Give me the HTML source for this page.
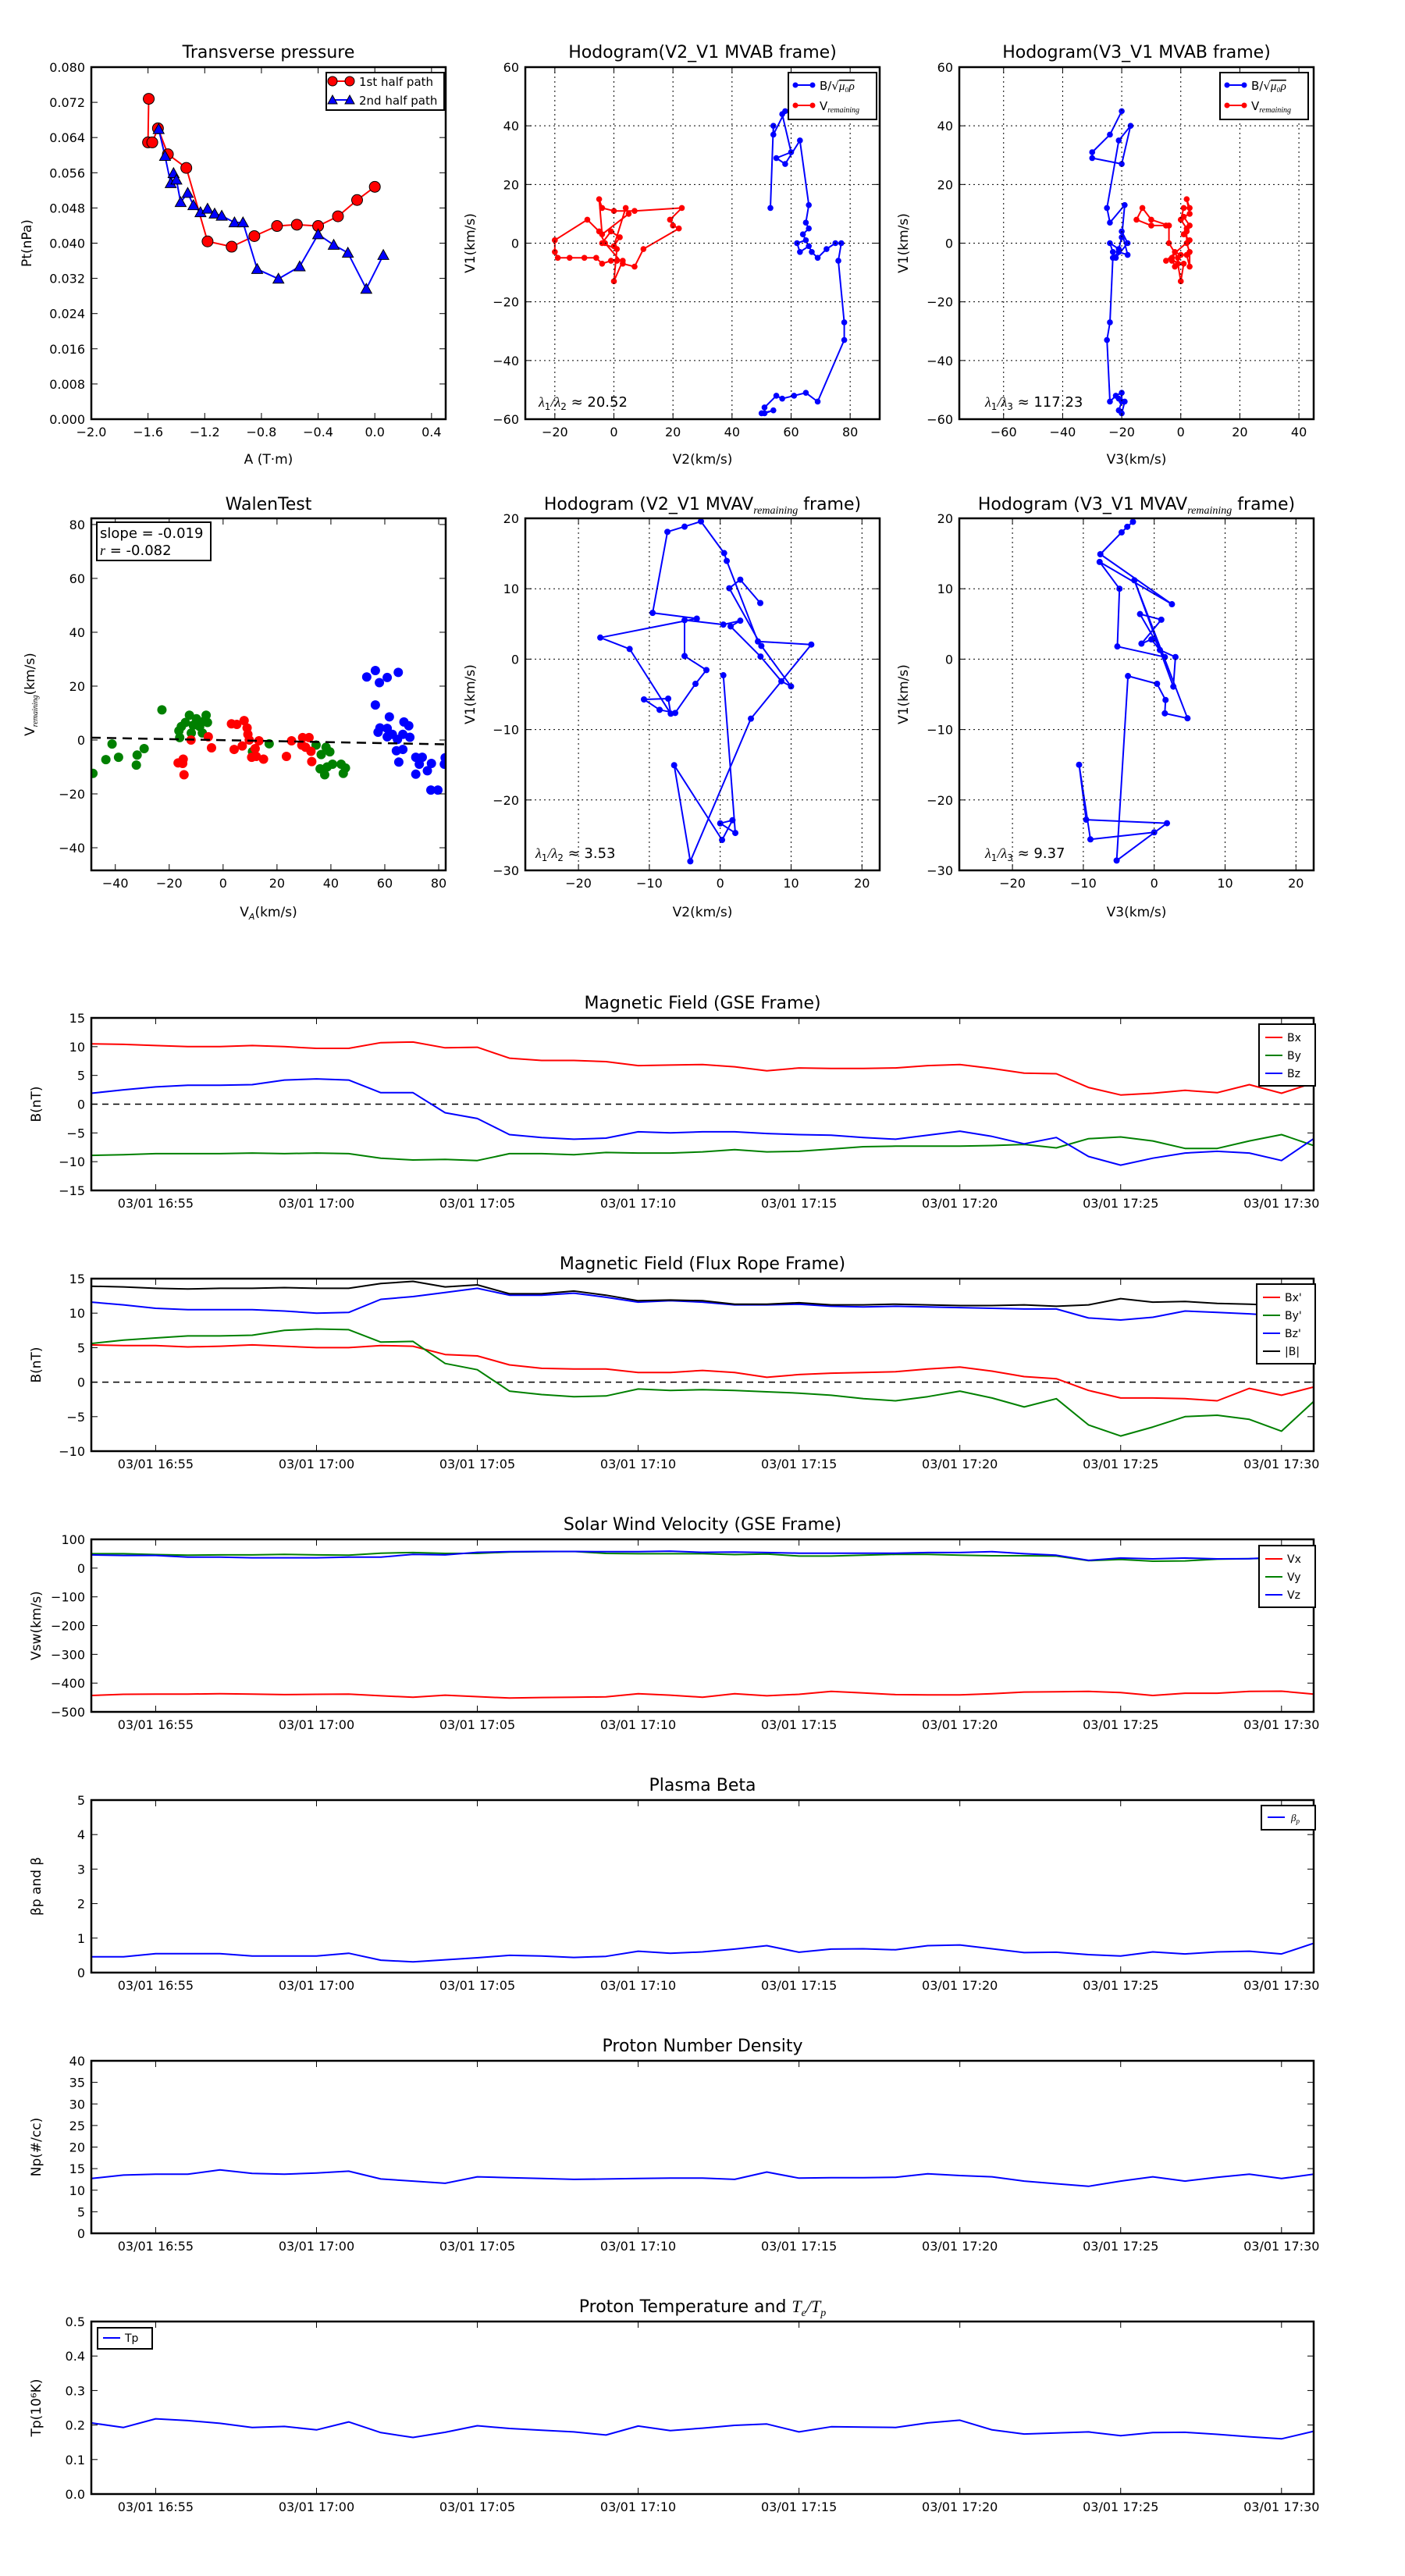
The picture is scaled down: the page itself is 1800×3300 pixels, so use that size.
<!DOCTYPE html>
<html><head><meta charset="utf-8"><style>
html,body{margin:0;padding:0;background:#fff;}
svg{display:block;font-family:"DejaVu Sans","Liberation Sans",sans-serif;}
</style></head><body>
<svg id="fig" width="1800" height="3300" viewBox="0 0 1800 3300" xmlns="http://www.w3.org/2000/svg">
<rect x="0" y="0" width="1800" height="3300" fill="#fff"/>
</svg>
<script>
// ---------- data: transverse pressure ----------
const ptA1=[-1.595,-1.60,-1.57,-1.53,-1.46,-1.33,-1.18,-1.01,-0.85,-0.69,-0.55,-0.40,-0.26,-0.125,0.00];
const ptP1=[0.0728,0.0629,0.0629,0.0661,0.0602,0.0571,0.0404,0.0392,0.0416,0.0439,0.0442,0.0439,0.0461,0.0498,0.0528];
const ptA2=[-1.525,-1.48,-1.44,-1.42,-1.40,-1.37,-1.32,-1.28,-1.23,-1.18,-1.13,-1.08,-0.99,-0.93,-0.83,-0.68,-0.53,-0.40,-0.29,-0.19,-0.06,0.06];
const ptP2=[0.0659,0.0598,0.0536,0.0559,0.0544,0.0493,0.0514,0.0486,0.0470,0.0478,0.0467,0.0462,0.0447,0.0447,0.0341,0.0319,0.0347,0.0420,0.0396,0.0378,0.0296,0.0373];
// ---------- hodogram MVAB V2-V1 ----------
const h2bX=[53,54,54,58,57,60,55,58,63,66,65,66,64,65,62,63,66,67,69,72,75,77,76,78,78,69,65,61,57,55,51,51,54,50];
const h2bY=[12,40,37,45,44,31,29,27,35,13,7,5,3,1,0,-3,-1,-3,-5,-2,0,0,-6,-27,-33,-54,-51,-52,-53,-52,-56,-58,-57,-58];
const h2rX=[-20,-20,-19,-15,-10,-6,-4,-1,1,3,0,1,-4,-1,2,0,4,5,-4,-5,-4,0,7,23,19,20,22,10,7,3,-3,-5,-9,-20];
const h2rY=[1,-3,-5,-5,-5,-5,-7,-6,-6,-6,-13,-2,0,4,2,-1,12,10,3,15,12,11,11,12,8,6,5,-2,-8,-7,0,4,8,1];
// ---------- hodogram MVAB V3-V1 ----------
const h3bX=[-20,-24,-30,-30,-20,-17,-21,-25,-24,-19,-20,-21,-24,-23,-22,-18,-20,-18,-21,-23,-24,-25,-24,-22,-20,-20,-21,-20,-19,-21];
const h3bY=[45,37,31,29,27,40,35,12,7,13,2,-2,0,-3,-5,0,4,-4,-3,-5,-27,-33,-54,-52,-51,-54,-57,-58,-54,-53];
const h3rX=[-5,-10,-15,-13,-10,-4,-4,-1,-1,0,1,-3,-2,0,2,3,3,2,2,3,1,3,2,3,1,0,2,1,3,-5,-3,-2];
const h3rY=[6,6,8,12,8,6,0,-5,-7,-13,-7,-6,-3,-4,-4,-8,-3,0,4,6,9,10,15,12,12,8,5,3,1,-6,-5,-8];
// ---------- Walen test ----------
const wgX=[-48.3,-43.5,-41.2,-38.8,-32.2,-31.9,-29.3,-22.7,-16.4,-16.1,-15.5,-14,-12.5,-11.8,-11.1,-9.9,-8.7,-7.7,-7.1,-6.3,-5.8,10.9,17.1,34.5,36.4,38.2,39.6,36.0,37.7,38.6,40.6,43.8,45.4,44.6];
const wgY=[-12.4,-7.3,-1.5,-6.4,-9.3,-5.6,-3.2,11.2,3.4,0.9,5.0,6.5,9.2,2.6,5.5,7.9,5.0,2.6,7.0,9.2,6.5,-4.3,-1.4,-1.9,-5.4,-2.7,-4.4,-10.7,-12.9,-10.0,-9.0,-9.0,-10.4,-12.4];
const wrX=[-16.7,-14.8,-15,-14.5,-11.9,-5.5,-4.3,3.1,5.1,7.8,8.9,9.2,9.7,13.3,7.1,4.1,11.9,10.6,12.3,15,23.5,25.4,29.5,31.9,29.2,30.6,32.6,32.9];
const wrY=[-8.5,-7.1,-8.7,-12.9,0,1.2,-2.9,6.0,5.8,7.2,4.5,2.1,0,-0.3,-2.2,-3.5,-3.2,-6.4,-6.1,-7.1,-6.1,-0.3,0.9,0.9,-1.9,-2.7,-4.2,-8.0];
const wbX=[53.3,56.5,58,60.9,65,56.5,61.7,67.1,68.9,57.5,58.2,60.9,60.9,62.8,64.7,66.7,69.3,64.3,66.7,65.2,71.5,73.9,72.8,71.5,75.8,77.3,77.1,79.7,82.1,82.4];
const wbY=[23.4,25.8,21.3,23.2,25.1,13.0,8.6,6.7,5.3,2.9,4.5,4.3,1.2,2.1,0.2,2.1,1.0,-4.0,-3.5,-8.2,-6.4,-6.4,-9.0,-12.7,-11.4,-8.7,-18.6,-18.6,-9.0,-6.6];
const walenSlope=-0.019;
const walenIntercept=-0.05;
// ---------- hodogram MVAV V2-V1 ----------
const m2X=[0.44,2.13,0,1.73,0.26,-6.50,-4.22,4.33,12.85,5.32,0.92,0.55,-2.72,-5.03,-7.45,-9.54,-3.30,-16.92,-12.78,-6.98,-7.34,-10.76,-8.55,-6.35,-3.49,-1.95,-5.03,-5.03,0.44,2.83,1.47,5.69,8.63,9.99,5.80,1.28,2.83,5.65];
const m2Y=[-2.29,-24.69,-23.32,-22.88,-25.68,-15.06,-28.71,-8.45,2.07,2.51,13.95,15.06,19.56,18.82,18.08,6.57,5.76,3.06,1.44,-7.75,-5.61,-5.72,-7.20,-7.64,-3.51,-1.55,0.44,5.54,4.91,5.46,4.65,0.37,-3.14,-3.87,1.88,10.07,11.29,7.97];
// ---------- hodogram MVAV V3-V1 ----------
const m3X=[-3,-3.8,-4.6,-7.6,2.5,-7.7,-4.9,-5.2,1.5,-2,1,-1.8,-0.4,0.8,3,2.7,-2.8,4.7,1.5,1.6,0.4,-3.7,-5.3,1.8,-9.6,-10.6,-9,0];
const m3Y=[19.5,18.8,18,14.9,7.8,13.8,10,1.8,0.3,6.4,5.6,2.2,2.8,1.3,0.3,-3.9,11.2,-8.4,-7.7,-5.8,-3.5,-2.4,-28.6,-23.3,-22.8,-15,-25.6,-24.6];
// ---------- time series (one sample per minute from 16:53) ----------
const timeTickLabels=["03/01 16:55","03/01 17:00","03/01 17:05","03/01 17:10","03/01 17:15","03/01 17:20","03/01 17:25","03/01 17:30"];
const timeTickMinutes=[2,7,12,17,22,27,32,37];
const gseBx=[10.5,10.4,10.2,10.0,10.0,10.2,10.0,9.7,9.7,10.7,10.8,9.8,9.9,8.0,7.6,7.6,7.4,6.7,6.8,6.9,6.5,5.8,6.3,6.2,6.2,6.3,6.7,6.9,6.2,5.4,5.3,2.9,1.6,1.9,2.4,2.0,3.4,1.9,3.7];
const gseBy=[-8.9,-8.8,-8.6,-8.6,-8.6,-8.5,-8.6,-8.5,-8.6,-9.4,-9.7,-9.6,-9.8,-8.6,-8.6,-8.8,-8.4,-8.5,-8.5,-8.3,-7.9,-8.3,-8.2,-7.8,-7.4,-7.3,-7.3,-7.3,-7.2,-7.0,-7.6,-6.0,-5.7,-6.4,-7.7,-7.7,-6.4,-5.3,-7.2];
const gseBz=[1.9,2.5,3.0,3.3,3.3,3.4,4.2,4.4,4.2,2.0,2.0,-1.5,-2.5,-5.3,-5.8,-6.1,-5.9,-4.8,-5.0,-4.8,-4.8,-5.1,-5.3,-5.4,-5.8,-6.1,-5.4,-4.7,-5.6,-6.9,-5.8,-9.1,-10.6,-9.4,-8.5,-8.2,-8.5,-9.8,-6.0];
const frBx=[5.4,5.3,5.3,5.1,5.2,5.4,5.2,5.0,5.0,5.3,5.2,4.0,3.8,2.5,2.0,1.9,1.9,1.4,1.4,1.7,1.4,0.7,1.1,1.3,1.4,1.5,1.9,2.2,1.6,0.8,0.5,-1.2,-2.3,-2.3,-2.4,-2.7,-0.9,-1.9,-0.7];
const frBy=[5.6,6.1,6.4,6.7,6.7,6.8,7.5,7.7,7.6,5.8,5.9,2.7,1.8,-1.3,-1.8,-2.1,-2.0,-1.0,-1.2,-1.1,-1.2,-1.4,-1.6,-1.9,-2.4,-2.7,-2.1,-1.3,-2.3,-3.6,-2.4,-6.2,-7.8,-6.5,-5.0,-4.8,-5.4,-7.1,-2.8];
const frBz=[11.6,11.2,10.7,10.5,10.5,10.5,10.3,10.0,10.1,12.0,12.4,13.0,13.6,12.6,12.6,12.9,12.3,11.6,11.8,11.6,11.2,11.2,11.3,11.0,10.9,11.0,10.9,10.8,10.7,10.6,10.6,9.3,9.0,9.4,10.3,10.1,9.9,9.6,10.0];
const frBt=[13.9,13.8,13.6,13.5,13.6,13.6,13.7,13.6,13.6,14.3,14.6,13.8,14.1,12.8,12.8,13.2,12.6,11.8,11.9,11.8,11.3,11.3,11.5,11.2,11.2,11.3,11.2,11.1,11.1,11.2,11.0,11.2,12.1,11.6,11.7,11.4,11.3,11.1,11.0];
const vx=[-443,-439,-438,-438,-437,-438,-440,-439,-438,-444,-449,-442,-447,-452,-450,-449,-448,-437,-442,-449,-437,-444,-439,-429,-434,-440,-441,-441,-437,-431,-430,-429,-433,-443,-435,-435,-429,-428,-438];
const vy=[50,50,47,45,46,46,48,46,45,52,54,51,51,56,57,58,51,50,50,50,47,49,42,42,45,48,48,45,43,43,42,26,30,24,25,31,33,35,38];
const vz=[46,44,44,38,38,36,36,36,38,38,48,46,55,57,58,58,57,57,59,55,56,54,52,52,52,52,54,54,57,50,45,27,35,32,35,32,33,38,42];
const betaP=[0.46,0.46,0.55,0.55,0.55,0.48,0.48,0.48,0.56,0.36,0.31,0.37,0.43,0.50,0.48,0.44,0.47,0.62,0.56,0.60,0.68,0.78,0.59,0.68,0.69,0.66,0.78,0.80,0.69,0.58,0.59,0.52,0.48,0.60,0.54,0.60,0.62,0.54,0.85];
const np=[12.7,13.5,13.7,13.7,14.7,13.9,13.7,14.0,14.4,12.6,12.1,11.6,13.1,12.9,12.7,12.5,12.6,12.7,12.8,12.8,12.5,14.2,12.8,12.9,12.9,13.0,13.8,13.4,13.1,12.1,11.5,10.9,12.1,13.1,12.1,13.0,13.7,12.7,13.7];
const tp=[0.206,0.193,0.218,0.213,0.205,0.193,0.196,0.186,0.209,0.178,0.164,0.179,0.198,0.190,0.185,0.180,0.171,0.197,0.184,0.191,0.199,0.203,0.180,0.195,0.194,0.193,0.206,0.214,0.186,0.174,0.177,0.180,0.169,0.178,0.179,0.173,0.166,0.160,0.182];

// ---------- drawing helpers ----------
const NS='http://www.w3.org/2000/svg';
const svg=document.getElementById('fig');
let clipId=0;
function mk(tag,attrs,parent){const e=document.createElementNS(NS,tag);for(const k in attrs)e.setAttribute(k,attrs[k]);(parent||svg).appendChild(e);return e;}
function txt(x,y,s,size,anchor,parent,extra){const t=mk('text',Object.assign({x:x,y:y,'font-size':size,'text-anchor':anchor||'middle',fill:'#000'},extra||{}),parent);t.textContent=s;return t;}
function axes(name,px0,py0,w,h,xmin,xmax,ymin,ymax){
  const g=mk('g',{});
  
  
  const cid='c'+(clipId++);
  const cp=mk('clipPath',{id:cid},g);mk('rect',{x:px0,y:py0,width:w,height:h},cp);
  const plot=mk('g',{'clip-path':'url(#'+cid+')'},g);
  
  
  return {g:g,plot:plot,x0:px0,y0:py0,w:w,h:h,
    sx:v=>px0+(v-xmin)/(xmax-xmin)*w, sy:v=>py0+h-(v-ymin)/(ymax-ymin)*h};
}
function frame(ax,xt,xl,yt,yl,grid,fs){
  fs=fs||16;
  const tl=8;
  xt.forEach((v,i)=>{const x=ax.sx(v);
    if(grid){const gl=mk('line',{x1:x,y1:ax.y0,x2:x,y2:ax.y0+ax.h,stroke:'#000','stroke-width':1,'stroke-dasharray':'2,4'},ax.g);}
    mk('line',{x1:x,y1:ax.y0+ax.h,x2:x,y2:ax.y0+ax.h-tl,stroke:'#000','stroke-width':1},ax.g);
    mk('line',{x1:x,y1:ax.y0,x2:x,y2:ax.y0+tl,stroke:'#000','stroke-width':1},ax.g);
    const t=txt(x,ax.y0+ax.h+22,xl[i],fs,'middle',ax.g);
    
    
  });
  yt.forEach((v,i)=>{const y=ax.sy(v);
    if(grid){const gl=mk('line',{x1:ax.x0,y1:y,x2:ax.x0+ax.w,y2:y,stroke:'#000','stroke-width':1,'stroke-dasharray':'2,4'},ax.g);}
    mk('line',{x1:ax.x0,y1:y,x2:ax.x0+tl,y2:y,stroke:'#000','stroke-width':1},ax.g);
    mk('line',{x1:ax.x0+ax.w,y1:y,x2:ax.x0+ax.w-tl,y2:y,stroke:'#000','stroke-width':1},ax.g);
    const t=txt(ax.x0-8,y+6,yl[i],fs,'end',ax.g);
    
    
  });
}
function border(ax){const r=mk('rect',{x:ax.x0,y:ax.y0,width:ax.w,height:ax.h,fill:'none',stroke:'#000','stroke-width':2.5},ax.g);}
function title(ax,s,y){const t=txt(ax.x0+ax.w/2,y,s,22,'middle',ax.g);return t;}
function xlabel(ax,s,y){const t=txt(ax.x0+ax.w/2,y,s,17,'middle',ax.g);return t;}
function ylabel(ax,s,x){const cy=ax.y0+ax.h/2;const t=txt(x,cy,s,17,'middle',ax.g,{transform:'rotate(-90 '+x+' '+cy+')'});return t;}
function line(ax,xs,ys,color,name,w){const pts=xs.map((v,i)=>ax.sx(v).toFixed(1)+','+ax.sy(ys[i]).toFixed(1)).join(' ');const p=mk('polyline',{points:pts,fill:'none',stroke:color,'stroke-width':w||2,'stroke-linejoin':'round'},ax.plot);return p;}
function dots(ax,xs,ys,color,r,name){xs.forEach((v,i)=>{const c=mk('circle',{cx:ax.sx(v),cy:ax.sy(ys[i]),r:r,fill:color},ax.plot);});}
function tris(ax,xs,ys,color,r,name){xs.forEach((v,i)=>{const x=ax.sx(v),y=ax.sy(ys[i]);const p=mk('polygon',{points:(x)+','+(y-r)+' '+(x-r)+','+(y+r*0.8)+' '+(x+r)+','+(y+r*0.8),fill:color,stroke:'#000','stroke-width':1},ax.plot);});}
function range(a,b,s){const r=[];for(let v=a;v<=b+1e-9;v+=s)r.push(Math.round(v*1000)/1000);return r;}
function lab(arr,f){return arr.map(v=>f?f(v):String(v).replace('-','\u2212'));}

// ================= Row 1 =================
(function(){
  const ax=axes('transverse-pressure-chart',117,86,454,451,-2.0,0.5,0,0.08);
  const xt=range(-2.0,0.4,0.4), yt=range(0,0.08,0.008);
  frame(ax,xt,lab(xt,v=>v.toFixed(1).replace('-','\u2212')),yt,lab(yt,v=>v.toFixed(3)),false);
  line(ax,ptA1,ptP1,'#f00','first-half-path-line',2);
  line(ax,ptA2,ptP2,'#00f','second-half-path-line',2);
  dots(ax,ptA1,ptP1,'#f00',7,'first-half-marker');
  ax.plot.querySelectorAll('circle').forEach(c=>c.setAttribute('stroke','#000'));
  tris(ax,ptA2,ptP2,'#00f',7,'second-half-marker');
  border(ax);
  title(ax,'Transverse pressure',74);
  xlabel(ax,'A (T\u00b7m)',594);
  ylabel(ax,'Pt(nPa)',40);
  const lg=mk('g',{},ax.g);
  
  
  mk('rect',{x:418,y:93,width:151,height:48,fill:'#fff',stroke:'#000','stroke-width':2},lg);
  mk('line',{x1:424,y1:104,x2:450,y2:104,stroke:'#f00','stroke-width':2},lg);
  mk('circle',{cx:426,cy:104,r:6,fill:'#f00',stroke:'#000'},lg);mk('circle',{cx:448,cy:104,r:6,fill:'#f00',stroke:'#000'},lg);
  mk('line',{x1:424,y1:128,x2:450,y2:128,stroke:'#00f','stroke-width':2},lg);
  mk('polygon',{points:'426,122 420,133 432,133',fill:'#00f',stroke:'#000'},lg);mk('polygon',{points:'448,122 442,133 454,133',fill:'#00f',stroke:'#000'},lg);
  const l1=txt(460,110,'1st half path',15,'start',lg);
  const l2=txt(460,134,'2nd half path',15,'start',lg);
})();

function hodoLegend(ax,x,y){
  const lg=mk('g',{},ax.g);
  
  
  mk('rect',{x:x,y:y,width:113,height:60,fill:'#fff',stroke:'#000','stroke-width':2},lg);
  mk('line',{x1:x+8,y1:y+16,x2:x+32,y2:y+16,stroke:'#00f','stroke-width':2},lg);
  mk('circle',{cx:x+9,cy:y+16,r:3.5,fill:'#00f'},lg);mk('circle',{cx:x+31,cy:y+16,r:3.5,fill:'#00f'},lg);
  mk('line',{x1:x+8,y1:y+42,x2:x+32,y2:y+42,stroke:'#f00','stroke-width':2},lg);
  mk('circle',{cx:x+9,cy:y+42,r:3.5,fill:'#f00'},lg);mk('circle',{cx:x+31,cy:y+42,r:3.5,fill:'#f00'},lg);
  const t1=txt(x+40,y+22,'B/\u221a',15,'start',lg);
  const ts=mk('tspan',{'font-style':'italic','font-family':'Liberation Serif,serif','text-decoration':'overline'},t1);ts.textContent='\u03bc\u2080\u03c1';
  
  const t2=txt(x+40,y+48,'V',15,'start',lg);
  const ts2=mk('tspan',{'font-size':10,'font-style':'italic','font-family':'Liberation Serif,serif',dy:3},t2);ts2.textContent='remaining';
  
}
function ratio(ax,x,y,a,b,val){
  const t=txt(x,y,'',18,'start',ax.g);
  const s1=mk('tspan',{'font-style':'italic','font-family':'Liberation Serif,serif'},t);s1.textContent='\u03bb';
  const s2=mk('tspan',{'font-size':12,dy:4},t);s2.textContent=a;
  const s3=mk('tspan',{'font-style':'italic','font-family':'Liberation Serif,serif',dy:-4},t);s3.textContent='/\u03bb';
  const s4=mk('tspan',{'font-size':12,dy:4},t);s4.textContent=b;
  const s5=mk('tspan',{dy:-4},t);s5.textContent=' \u2248 '+val;
  
  
}
(function(){
  const ax=axes('hodogram-v2-v1-mvab',673,86,454,451,-30,90,-60,60);
  const xt=range(-20,80,20), yt=range(-60,60,20);
  frame(ax,xt,lab(xt),yt,lab(yt),true);
  line(ax,h2bX,h2bY,'#00f','b-alfven-path',2);dots(ax,h2bX,h2bY,'#00f',3.8,'b-alfven-point');
  line(ax,h2rX,h2rY,'#f00','v-remaining-path',2);dots(ax,h2rX,h2rY,'#f00',3.8,'v-remaining-point');
  border(ax);
  title(ax,'Hodogram(V2_V1 MVAB frame)',74);
  xlabel(ax,'V2(km/s)',594);
  ylabel(ax,'V1(km/s)',608);
  hodoLegend(ax,1010,93);
  ratio(ax,690,521,'1','2','20.52');
})();
(function(){
  const ax=axes('hodogram-v3-v1-mvab',1229,86,454,451,-75,45,-60,60);
  const xt=range(-60,40,20), yt=range(-60,60,20);
  frame(ax,xt,lab(xt),yt,lab(yt),true);
  line(ax,h3bX,h3bY,'#00f','b-alfven-path',2);dots(ax,h3bX,h3bY,'#00f',3.8,'b-alfven-point');
  line(ax,h3rX,h3rY,'#f00','v-remaining-path',2);dots(ax,h3rX,h3rY,'#f00',3.8,'v-remaining-point');
  border(ax);
  title(ax,'Hodogram(V3_V1 MVAB frame)',74);
  xlabel(ax,'V3(km/s)',594);
  ylabel(ax,'V1(km/s)',1163);
  hodoLegend(ax,1563,93);
  ratio(ax,1262,521,'1','3','117.23');
})();

// ================= Row 2 =================
(function(){
  const ax=axes('walen-test-chart',117,664,454,451,-48.9,82.6,-48.4,82.3);
  const xt=range(-40,80,20), yt=range(-40,80,20);
  frame(ax,xt,lab(xt),yt,lab(yt),false);
  dots(ax,wgX,wgY,'#008000',6,'walen-point-green');
  dots(ax,wrX,wrY,'#f00',6,'walen-point-red');
  dots(ax,wbX,wbY,'#00f',6,'walen-point-blue');
  const fx=[-48.9,82.6];
  const fit=mk('line',{x1:ax.sx(fx[0]),y1:ax.sy(walenSlope*fx[0]+walenIntercept),x2:ax.sx(fx[1]),y2:ax.sy(walenSlope*fx[1]+walenIntercept),stroke:'#000','stroke-width':2.5,'stroke-dasharray':'12,8'},ax.plot);
  
  
  border(ax);
  title(ax,'WalenTest',653);
  const xl=xlabel(ax,'V',1174);const xs=mk('tspan',{'font-size':11,dy:4,'font-style':'italic'},xl);xs.textContent='A';const xs2=mk('tspan',{dy:-4},xl);xs2.textContent='(km/s)';
  const yl=ylabel(ax,'V',44);const ys=mk('tspan',{'font-size':10,dy:4,'font-style':'italic','font-family':'Liberation Serif,serif'},yl);ys.textContent='remaining';const ys2=mk('tspan',{dy:-4},yl);ys2.textContent='(km/s)';
  const bx=mk('g',{},ax.g);
  
  
  mk('rect',{x:124,y:669,width:146,height:49,fill:'#fff',stroke:'#000','stroke-width':2},bx);
  txt(128,689,'slope = -0.019',18,'start',bx);
  const r=txt(128,711,'',18,'start',bx);const ri=mk('tspan',{'font-style':'italic','font-family':'Liberation Serif,serif'},r);ri.textContent='r';const rr=mk('tspan',{},r);rr.textContent=' = -0.082';
})();
(function(){
  const ax=axes('hodogram-v2-v1-mvav',673,664,454,451,-27.5,22.5,-30,20);
  const xt=range(-20,20,10), yt=range(-30,20,10);
  frame(ax,xt,lab(xt),yt,lab(yt),true);
  line(ax,m2X,m2Y,'#00f','b-alfven-path',2);dots(ax,m2X,m2Y,'#00f',4,'b-alfven-point');
  border(ax);
  const t=title(ax,'Hodogram (V2_V1 MVAV',653);const s=mk('tspan',{'font-size':14,dy:5,'font-style':'italic','font-family':'Liberation Serif,serif'},t);s.textContent='remaining';const s2=mk('tspan',{dy:-5},t);s2.textContent=' frame)';
  xlabel(ax,'V2(km/s)',1174);
  ylabel(ax,'V1(km/s)',608);
  ratio(ax,686,1099,'1','2','3.53');
})();
(function(){
  const ax=axes('hodogram-v3-v1-mvav',1229,664,454,451,-27.5,22.5,-30,20);
  const xt=range(-20,20,10), yt=range(-30,20,10);
  frame(ax,xt,lab(xt),yt,lab(yt),true);
  line(ax,m3X,m3Y,'#00f','b-alfven-path',2);dots(ax,m3X,m3Y,'#00f',4,'b-alfven-point');
  border(ax);
  const t=title(ax,'Hodogram (V3_V1 MVAV',653);const s=mk('tspan',{'font-size':14,dy:5,'font-style':'italic','font-family':'Liberation Serif,serif'},t);s.textContent='remaining';const s2=mk('tspan',{dy:-5},t);s2.textContent=' frame)';
  xlabel(ax,'V3(km/s)',1174);
  ylabel(ax,'V1(km/s)',1163);
  ratio(ax,1262,1099,'1','3','9.37');
})();

// ================= Time series =================
const minutes=gseBx.map((_,i)=>i);
function tsLegend(ax,x,y,w,items){
  const lg=mk('g',{},ax.g);
  
  
  mk('rect',{x:x,y:y,width:w,height:items.length*23+10,fill:'#fff',stroke:'#000','stroke-width':2},lg);
  items.forEach((it,i)=>{const yy=y+17+i*23;
    mk('line',{x1:x+8,y1:yy,x2:x+30,y2:yy,stroke:it[1],'stroke-width':2},lg);
    const t=txt(x+36,yy+5,it[0],14,'start',lg);
    
    
  });
}
function tsPanel(name,top,ymin,ymax,ystep,titleStr,ylab,series,zero,fmt){
  const ax=axes(name,117,top,1566,221,0,38,ymin,ymax);
  const yt=range(ymin,ymax,ystep);
  frame(ax,timeTickMinutes,timeTickLabels,yt,lab(yt,fmt),false);
  if(zero){const z=mk('line',{x1:ax.x0,y1:ax.sy(0),x2:ax.x0+ax.w,y2:ax.sy(0),stroke:'#000','stroke-width':1.5,'stroke-dasharray':'8,6'},ax.plot);}
  series.forEach(s=>line(ax,minutes,s[0],s[1],s[2],2));
  border(ax);
  ax.titleEl=title(ax,titleStr,top-12);
  ylabel(ax,ylab,52);
  return ax;
}
(function(){
  const ax=tsPanel('magnetic-field-gse-chart',1304,-15,15,5,'Magnetic Field (GSE Frame)','B(nT)',[[gseBx,'#f00','bx-line'],[gseBy,'#008000','by-line'],[gseBz,'#00f','bz-line']],true);
  tsLegend(ax,1613,1312,72,[['Bx','#f00'],['By','#008000'],['Bz','#00f']]);
})();
(function(){
  const ax=tsPanel('magnetic-field-flux-rope-chart',1638,-10,15,5,'Magnetic Field (Flux Rope Frame)','B(nT)',[[frBx,'#f00','bx-prime-line'],[frBy,'#008000','by-prime-line'],[frBz,'#00f','bz-prime-line'],[frBt,'#000','b-magnitude-line']],true);
  tsLegend(ax,1610,1645,75,[["Bx'",'#f00'],["By'",'#008000'],["Bz'",'#00f'],['|B|','#000']]);
})();
(function(){
  const ax=tsPanel('solar-wind-velocity-chart',1972,-500,100,100,'Solar Wind Velocity (GSE Frame)','Vsw(km/s)',[[vx,'#f00','vx-line'],[vy,'#008000','vy-line'],[vz,'#00f','vz-line']],false);
  tsLegend(ax,1613,1980,72,[['Vx','#f00'],['Vy','#008000'],['Vz','#00f']]);
})();
(function(){
  const ax=tsPanel('plasma-beta-chart',2306,0,5,1,'Plasma Beta','\u03b2p and \u03b2',[[betaP,'#00f','beta-p-line']],false);
  const lg=mk('g',{},ax.g);
  
  
  mk('rect',{x:1616,y:2313,width:69,height:31,fill:'#fff',stroke:'#000','stroke-width':2},lg);
  mk('line',{x1:1624,y1:2328,x2:1646,y2:2328,stroke:'#00f','stroke-width':2},lg);
  const t=txt(1654,2333,'\u03b2',13,'start',lg,{'font-style':'italic','font-family':'Liberation Serif,serif'});const s=mk('tspan',{'font-size':9,dy:3},t);s.textContent='p';
  
  
})();
tsPanel('proton-density-chart',2640,0,40,5,'Proton Number Density','Np(#/cc)',[[np,'#00f','np-line']],false);
(function(){
  const ax=tsPanel('proton-temperature-chart',2974,0,0.5,0.1,'Proton Temperature and ','Tp(10\u2076K)',[[tp,'#00f','tp-line']],false,v=>v.toFixed(1));
  const t=ax.titleEl;
  const a=mk('tspan',{'font-style':'italic','font-family':'Liberation Serif,serif'},t);a.textContent='T';
  const b=mk('tspan',{'font-size':14,dy:5,'font-style':'italic','font-family':'Liberation Serif,serif'},t);b.textContent='e';
  const c=mk('tspan',{dy:-5,'font-style':'italic','font-family':'Liberation Serif,serif'},t);c.textContent='/T';
  const d=mk('tspan',{'font-size':14,dy:5,'font-style':'italic','font-family':'Liberation Serif,serif'},t);d.textContent='p';
  const lg=mk('g',{},ax.g);
  
  
  mk('rect',{x:125,y:2982,width:70,height:27,fill:'#fff',stroke:'#000','stroke-width':2},lg);
  mk('line',{x1:132,y1:2995,x2:154,y2:2995,stroke:'#00f','stroke-width':2},lg);
  const tt=txt(160,3000,'Tp',14,'start',lg);
  
  
})();
</script>
</body></html>
